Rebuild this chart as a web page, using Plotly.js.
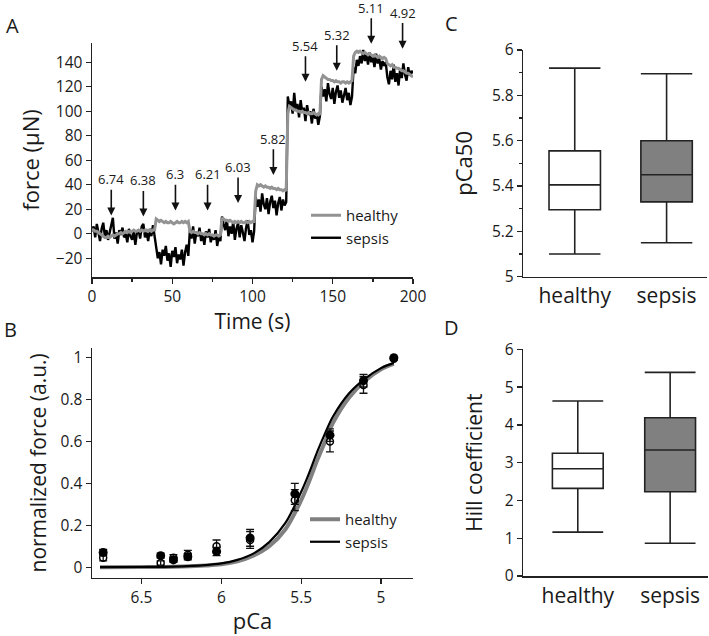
<!DOCTYPE html>
<html>
<head>
<meta charset="utf-8">
<script src="https://cdn.plot.ly/plotly-3.0.1.min.js"></script>
<style>
  html, body { margin: 0; padding: 0; background: #fff; }
  #fig { width: 709px; height: 636px; }
</style>
</head>
<body>
<div id="fig"></div>
<script>
// A: force trace, one sample per second (0..200 s)
let sepsisForce = [
  2, 6, -3, 8, 1, -6, 4, 9, -2, 3, -5, 2, 7, 13, -4, 1, -8, 3, -1, 5, -3, 0, -7, 4, -2, -5, 2, -9, 1, 3, -4, 6, 8, -3, 1, -6, 4, -2, 7, -1,
  -12, -20, -15, -25, -13, -18, -10, -22, -16, -27, -14, -19, -11, -24, -17, -21, -13, -26, -15, -9, -18,
  3, -4, 6, -8, 1, -2, 5, -6, 0, -9, 2, -3, 4, -7, -1, -5, 3, -10, -2, -6,
  14, 8, 3, 12, -2, 6, 0, 10, -5, 4, 9, -3, 7, 1, -6, 5, 11, -1, 3, -7, 2,
  30, 22, 28, 18, 33, 24, 20, 29, 16, 26, 31, 21, 27, 15, 25, 30, 19, 28, 23, 26,
  112, 104, 108, 98, 115, 101, 106, 95, 109, 99, 103, 92, 105, 97, 100, 90, 102, 94, 98, 89, 96,
  120, 112, 118, 108, 123, 114, 110, 119, 106, 116, 121, 111, 117, 107, 113, 119, 109, 115, 105, 112,
  136, 131, 142, 137, 145, 139, 150, 141, 146, 138, 148, 140, 144, 136, 147, 139, 143, 134, 141, 137, 140,
  128, 122, 133, 126, 138, 124, 131, 121, 135, 127, 139, 130, 125, 136, 129, 133, 131
];
let healthyForce = [
  4, 3, 2, 2, 1, 0, -1, -2, -3, -3, -2, -3, -2, -1, -2, -1, 0, 0, 1, 0, 1, 2, 1, 2, 1, 2, 3, 2, 2, 3, 2, 3, 2, 3, 3, 2, 3, 2, 3, 3,
  12, 11, 10, 11, 10, 9, 10, 9, 9, 10, 9, 8, 9, 10, 9, 9, 10, 9, 10, 9, 10,
  2, 1, 2, 1, 1, 0, 1, 0, 0, -1, 0, -1, 0, -1, -1, -2, -1, -1, -2, -1,
  13, 12, 11, 11, 10, 11, 10, 9, 10, 9, 10, 9, 10, 9, 9, 10, 9, 10, 9, 10, 10,
  35, 40, 39, 40, 39, 38, 39, 38, 38, 37, 38, 37, 37, 36, 37, 36, 36, 35, 36, 35,
  98, 104, 103, 102, 101, 101, 100, 100, 99, 100, 99, 99, 98, 99, 98, 98, 99, 98, 97, 98, 97,
  126, 129, 128, 127, 126, 126, 125, 125, 124, 125, 124, 124, 123, 124, 124, 123, 124, 123, 124, 125,
  145, 148, 149, 148, 149, 148, 147, 148, 147, 146, 147, 146, 145, 146, 145, 144, 145, 144, 143, 144, 143,
  139, 138, 137, 138, 136, 136, 135, 135, 134, 133, 133, 132, 131, 131, 130, 129, 128
];
let timeSec = sepsisForce.map((v, i) => i);

// pCa solutions and where the arrows point in A
let pcaLevels = [6.74, 6.38, 6.3, 6.21, 6.03, 5.82, 5.54, 5.32, 5.11, 4.92];
let arrowTime = [12, 32, 52, 72, 91, 113, 133, 152.5, 174, 193.5];
let arrowForce = [15, 14, 19, 19, 25, 48, 124, 133, 155, 151];

// B: normalized force, mean +/- sem
let sepsisNorm = [0.07, 0.055, 0.035, 0.05, 0.075, 0.14, 0.35, 0.63, 0.89, 1.0];
let sepsisErr = [0.015, 0.012, 0.012, 0.015, 0.02, 0.04, 0.05, 0.03, 0.03, 0.005];
let healthyNorm = [0.045, 0.02, 0.045, 0.06, 0.10, 0.13, 0.32, 0.60, 0.87, 0.995];
let healthyErr = [0.015, 0.01, 0.015, 0.02, 0.03, 0.04, 0.05, 0.05, 0.04, 0.005];

// B: fitted curves
let fitPca = [6.76, 6.5, 6.3, 6.1, 6.0, 5.9, 5.8, 5.7, 5.6, 5.5, 5.45, 5.4, 5.35, 5.3, 5.2, 5.1, 5.0, 4.92];
let fitSepsis = [0, 0.001, 0.003, 0.01, 0.018, 0.035, 0.065, 0.12, 0.21, 0.36, 0.45, 0.55, 0.64, 0.72, 0.83, 0.90, 0.95, 0.975];
let fitHealthy = [0, 0.001, 0.002, 0.008, 0.014, 0.028, 0.055, 0.10, 0.18, 0.32, 0.41, 0.51, 0.60, 0.69, 0.81, 0.89, 0.945, 0.97];

// C and D: box summaries
let groups = ["healthy", "sepsis"];
let pca50Low = [5.10, 5.15];
let pca50Q1 = [5.295, 5.33];
let pca50Med = [5.405, 5.45];
let pca50Q3 = [5.555, 5.60];
let pca50High = [5.92, 5.895];
let hillLow = [1.16, 0.865];
let hillQ1 = [2.32, 2.23];
let hillMed = [2.84, 3.335];
let hillQ3 = [3.25, 4.19];
let hillHigh = [4.63, 5.39];

const FONT = "Open Sans, sans-serif";
const INK = "#1a1a1a";
const GRAY = "#939393";

// traces for A
let traceSepsisA = {
  x: timeSec, y: sepsisForce, type: "scatter", mode: "lines",
  name: "sepsis", line: {color: "#000", width: 2.4}, xaxis: "x", yaxis: "y", legend: "legend"
};
let traceHealthyA = {
  x: timeSec, y: healthyForce, type: "scatter", mode: "lines",
  name: "healthy", line: {color: GRAY, width: 3}, xaxis: "x", yaxis: "y", legend: "legend"
};

// traces for B
let fitH = {
  x: fitPca, y: fitHealthy, type: "scatter", mode: "lines", name: "healthy",
  line: {color: "#808080", width: 4, shape: "spline"}, xaxis: "x2", yaxis: "y2", legend: "legend2"
};
let fitS = {
  x: fitPca, y: fitSepsis, type: "scatter", mode: "lines", name: "sepsis",
  line: {color: "#000", width: 2.2, shape: "spline"}, xaxis: "x2", yaxis: "y2", legend: "legend2"
};
let ptsH = {
  x: pcaLevels, y: healthyNorm, type: "scatter", mode: "markers", showlegend: false,
  marker: {symbol: "circle-open", color: "#000", size: 7, line: {width: 1.5}},
  error_y: {type: "data", array: healthyErr, color: "#111", thickness: 1.3, width: 4},
  xaxis: "x2", yaxis: "y2"
};
let ptsS = {
  x: pcaLevels, y: sepsisNorm, type: "scatter", mode: "markers", showlegend: false,
  marker: {symbol: "circle", color: "#000", size: 9},
  error_y: {type: "data", array: sepsisErr, color: "#111", thickness: 1.3, width: 4},
  xaxis: "x2", yaxis: "y2"
};

// box traces for C and D
function boxTrace(low, q1, med, q3, high, i, xa, ya, w) {
  return {
    type: "box", x: [groups[i]], lowerfence: [low[i]], q1: [q1[i]], median: [med[i]],
    q3: [q3[i]], upperfence: [high[i]], width: w, whiskerwidth: 1,
    fillcolor: i === 0 ? "#ffffff" : "#808080",
    line: {color: "#222", width: 1.6}, showlegend: false, xaxis: xa, yaxis: ya, hoverinfo: "skip"
  };
}

let data = [
  traceSepsisA, traceHealthyA, fitH, fitS, ptsH, ptsS,
  boxTrace(pca50Low, pca50Q1, pca50Med, pca50Q3, pca50High, 0, "x3", "y3", 0.56),
  boxTrace(pca50Low, pca50Q1, pca50Med, pca50Q3, pca50High, 1, "x3", "y3", 0.56),
  boxTrace(hillLow, hillQ1, hillMed, hillQ3, hillHigh, 0, "x4", "y4", 0.55),
  boxTrace(hillLow, hillQ1, hillMed, hillQ3, hillHigh, 1, "x4", "y4", 0.55)
];

// arrows with pCa labels; tail given in force units so it is not pushed down
let annotations = pcaLevels.map((p, i) => ({
  x: arrowTime[i], y: arrowForce[i], xref: "x", yref: "y", text: String(p),
  showarrow: true, axref: "pixel", ax: 0, ayref: "y", ay: arrowForce[i] + 29.5,
  arrowhead: 2, arrowsize: 1, arrowwidth: 1.6,
  arrowcolor: "#111", font: {family: FONT, size: 13, color: INK}
}));

// panel letters
[["A", 12, 25], ["B", 10, 329], ["C", 451, 24], ["D", 451, 327]].forEach(l => {
  annotations.push({
    text: l[0], xref: "paper", yref: "paper", x: l[1] / 709, y: 1 - l[2] / 636,
    xanchor: "center", yanchor: "middle", showarrow: false,
    font: {family: FONT, size: 20, color: INK}
  });
});

let axBase = {
  showgrid: false, zeroline: false, showline: true, linecolor: "#222", linewidth: 1.5,
  ticks: "outside", ticklen: 5, tickwidth: 1.3, tickcolor: "#222",
  tickfont: {family: FONT, size: 15.5, color: INK}
};

var layout = {
  width: 709, height: 636,
  margin: {l: 0, r: 0, t: 0, b: 0},
  paper_bgcolor: "#fff", plot_bgcolor: "#fff",
  font: {family: FONT, color: INK},
  xaxis: Object.assign({}, axBase, {
    domain: [92 / 709, 413 / 709], range: [0, 200], tickvals: [0, 50, 100, 150, 200],
    minor: {tickvals: [25, 75, 125, 175], ticklen: 3, tickcolor: "#222"},
    anchor: "y", title: {text: "Time (s)", font: {family: FONT, size: 21}, standoff: 4}
  }),
  yaxis: Object.assign({}, axBase, {
    domain: [1 - 277 / 636, 1 - 43 / 636], range: [-35.3, 155.7],
    tickvals: [-20, 0, 20, 40, 60, 80, 100, 120, 140], anchor: "x",
    title: {text: "force (μN)", font: {family: FONT, size: 22}, standoff: 10}
  }),
  xaxis2: Object.assign({}, axBase, {
    domain: [92 / 709, 413 / 709], range: [6.81, 4.80], tickvals: [6.5, 6, 5.5, 5],
    anchor: "y2", title: {text: "pCa", font: {family: FONT, size: 22}, standoff: 7}
  }),
  yaxis2: Object.assign({}, axBase, {
    domain: [1 - 577.7 / 636, 1 - 348 / 636], range: [-0.05, 1.046],
    tickvals: [0, 0.2, 0.4, 0.6, 0.8, 1], anchor: "x2",
    title: {text: "normalized force (a.u.)", font: {family: FONT, size: 21}, standoff: 8}
  }),
  xaxis3: Object.assign({}, axBase, {
    domain: [523.3 / 709, 707 / 709], range: [-0.56, 1.44], ticks: "",
    tickfont: {family: FONT, size: 21, color: INK}, anchor: "y3"
  }),
  yaxis3: Object.assign({}, axBase, {
    domain: [1 - 276.7 / 636, 1 - 50 / 636], range: [5, 6],
    tickvals: [5, 5.2, 5.4, 5.6, 5.8, 6], anchor: "x3",
    minor: {tickvals: [5.1, 5.3, 5.5, 5.7, 5.9], ticklen: 3, tickcolor: "#222"},
    title: {text: "pCa50", font: {family: FONT, size: 22}, standoff: 13}
  }),
  xaxis4: Object.assign({}, axBase, {
    domain: [523.3 / 709, 708 / 709], range: [-0.59, 1.41], ticks: "",
    tickfont: {family: FONT, size: 21, color: INK}, anchor: "y4"
  }),
  yaxis4: Object.assign({}, axBase, {
    domain: [1 - 576 / 636, 1 - 349.3 / 636], range: [0, 6],
    tickvals: [0, 1, 2, 3, 4, 5, 6], anchor: "x4",
    title: {text: "Hill coefficient", font: {family: FONT, size: 21}, standoff: 16}
  }),
  legend: {
    x: 306 / 709, y: 1 - 199 / 636, xanchor: "left", yanchor: "top",
    traceorder: "reversed", bgcolor: "rgba(0,0,0,0)", itemwidth: 30,
    font: {family: FONT, size: 15, color: INK}
  },
  legend2: {
    x: 305 / 709, y: 1 - 503 / 636, xanchor: "left", yanchor: "top",
    bgcolor: "rgba(0,0,0,0)", itemwidth: 30,
    font: {family: FONT, size: 15, color: INK}
  },
  annotations: annotations
};

Plotly.newPlot("fig", data, layout, {displayModeBar: false, staticPlot: true});
</script>
</body>
</html>
